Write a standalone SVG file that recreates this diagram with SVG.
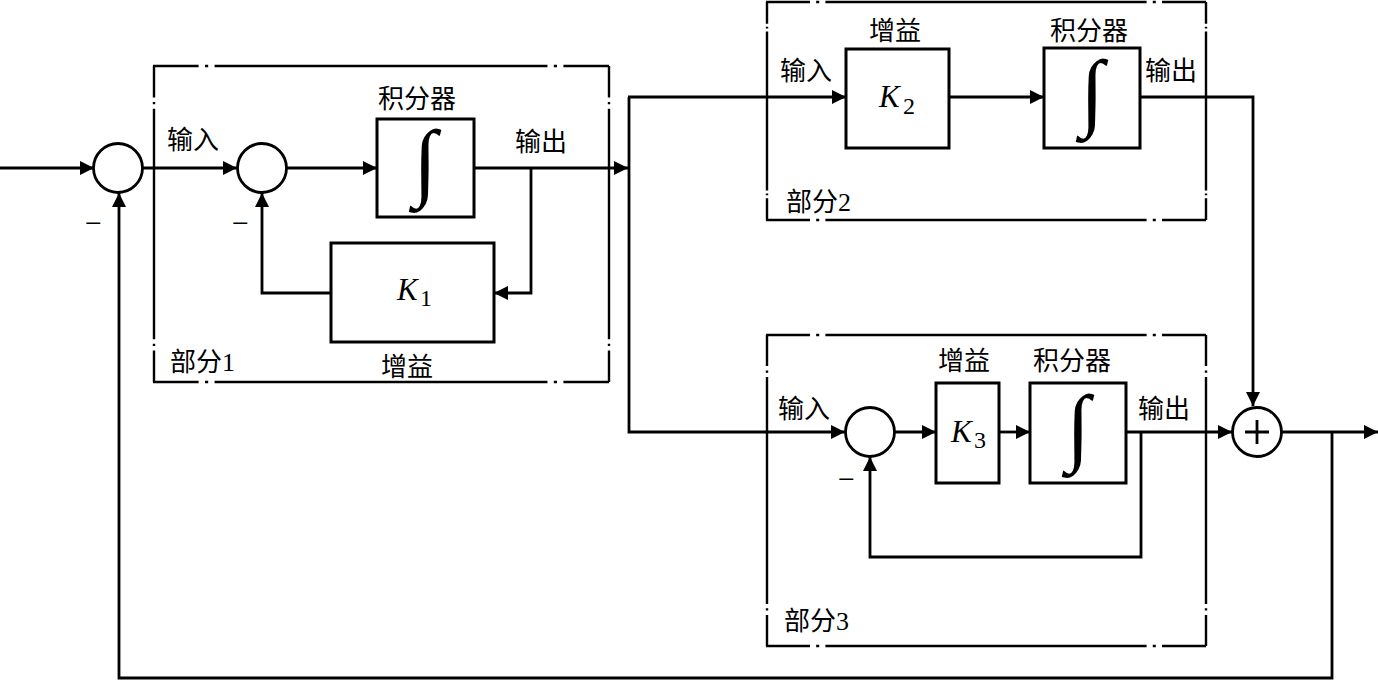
<svg xmlns="http://www.w3.org/2000/svg" width="1378" height="681" viewBox="0 0 1378 681">
<defs>
<marker id="arr" markerWidth="14" markerHeight="14" refX="14" refY="7" orient="auto" markerUnits="userSpaceOnUse">
<path d="M0,0 L14,7 L0,14 z" fill="#000"/>
</marker>
<style>
.ln{fill:none;stroke:#000;stroke-width:2.8}
.box{fill:#fff;stroke:#000;stroke-width:3}
.sum{fill:#fff;stroke:#000;stroke-width:2.8}
.grp{fill:none;stroke:#000;stroke-width:2.4;stroke-dasharray:10 1.4 0.7 1.4 73 1.4 0.7 1.4 10;stroke-linecap:butt}
.cn{font-family:"Liberation Serif","Noto Sans CJK SC",serif;font-size:26px;fill:#000}
.k{font-family:"Liberation Serif",serif;font-style:italic;font-size:31px;fill:#000}
.sub{font-family:"Liberation Serif",serif;font-size:24px;fill:#000}
.int{font-family:"Liberation Serif",serif;font-size:86px;fill:#000;text-anchor:middle}
.mn{font-family:"Liberation Serif",serif;font-size:30px;fill:#000}
</style>
</defs>
<rect width="1378" height="681" fill="#fff"/>

<g id="part1-frame">
<line class="grp" pathLength="100" x1="153" y1="66" x2="609" y2="66"/>
<line class="grp" pathLength="100" x1="609" y1="66" x2="609" y2="382"/>
<line class="grp" pathLength="100" x1="609" y1="382" x2="153" y2="382"/>
<line class="grp" pathLength="100" x1="154" y1="382" x2="154" y2="66"/>
<text class="cn" x="170" y="371">部分1</text>
</g>
<g id="part2-frame">
<line class="grp" pathLength="100" x1="766" y1="2" x2="1206" y2="2"/>
<line class="grp" pathLength="100" x1="1206" y1="2" x2="1206" y2="220"/>
<line class="grp" pathLength="100" x1="1206" y1="220" x2="766" y2="220"/>
<line class="grp" pathLength="100" x1="767" y1="220" x2="767" y2="2"/>
<text class="cn" x="786" y="211">部分2</text>
</g>
<g id="part3-frame">
<line class="grp" pathLength="100" x1="766" y1="335" x2="1206" y2="335"/>
<line class="grp" pathLength="100" x1="1206" y1="335" x2="1206" y2="646"/>
<line class="grp" pathLength="100" x1="1206" y1="646" x2="766" y2="646"/>
<line class="grp" pathLength="100" x1="767" y1="646" x2="767" y2="335"/>
<text class="cn" x="784" y="630">部分3</text>
</g>

<g id="connectors">
<line class="ln" x1="0" y1="168" x2="94" y2="168" marker-end="url(#arr)"/>
<line class="ln" x1="143" y1="168" x2="237" y2="168" marker-end="url(#arr)"/>
<line class="ln" x1="287" y1="168" x2="377" y2="168" marker-end="url(#arr)"/>
<line class="ln" x1="474" y1="168" x2="628" y2="168" marker-end="url(#arr)"/>
<polyline class="ln" points="531,168 531,293 494,293" marker-end="url(#arr)"/>
<polyline class="ln" points="331,293 262,293 262,193" marker-end="url(#arr)"/>
<polyline class="ln" points="629,97 629,432 845,432" marker-end="url(#arr)"/>
<line class="ln" x1="628" y1="97" x2="846" y2="97" marker-end="url(#arr)"/>
<line class="ln" x1="949" y1="97" x2="1044" y2="97" marker-end="url(#arr)"/>
<polyline class="ln" points="1140,97 1253,97 1253,406" marker-end="url(#arr)"/>
<line class="ln" x1="894" y1="432" x2="936" y2="432" marker-end="url(#arr)"/>
<line class="ln" x1="999" y1="432" x2="1030" y2="432" marker-end="url(#arr)"/>
<line class="ln" x1="1126" y1="432" x2="1232" y2="432" marker-end="url(#arr)"/>
<polyline class="ln" points="1141,432 1141,557 870,557 870,457" marker-end="url(#arr)"/>
<line class="ln" x1="1282" y1="432" x2="1378" y2="432" marker-end="url(#arr)"/>
<polyline class="ln" points="1332,432 1332,678 119,678 119,193" marker-end="url(#arr)"/>
</g>

<g id="sum1">
<circle class="sum" cx="118" cy="168" r="24.5"/>
<text class="mn" x="85" y="233">−</text>
</g>
<g id="sum2">
<circle class="sum" cx="262" cy="168" r="24.5"/>
<text class="mn" x="232" y="233">−</text>
</g>
<g id="integrator1">
<rect class="box" x="377" y="119" width="97" height="98"/>
<text class="int" x="425" y="190">∫</text>
<text class="cn" x="378" y="108">积分器</text>
</g>
<g id="gain1">
<rect class="box" x="331" y="243" width="163" height="99"/>
<text class="k" x="397" y="300">K</text>
<text class="sub" x="420" y="306">1</text>
<text class="cn" x="381" y="376">增益</text>
</g>
<g id="labels1">
<text class="cn" x="167" y="149">输入</text>
<text class="cn" x="515" y="151">输出</text>
</g>

<g id="gain2">
<rect class="box" x="846" y="49" width="103" height="99"/>
<text class="k" x="879" y="107">K</text>
<text class="sub" x="903" y="114">2</text>
<text class="cn" x="869" y="40">增益</text>
</g>
<g id="integrator2">
<rect class="box" x="1044" y="48" width="96" height="100"/>
<text class="int" x="1092" y="120">∫</text>
<text class="cn" x="1050" y="40">积分器</text>
</g>
<g id="labels2">
<text class="cn" x="780" y="80">输入</text>
<text class="cn" x="1145" y="80">输出</text>
</g>

<g id="sum3">
<circle class="sum" cx="870" cy="432" r="24.5"/>
<text class="mn" x="838" y="489">−</text>
</g>
<g id="gain3">
<rect class="box" x="936" y="383" width="63" height="100"/>
<text class="k" x="951" y="442">K</text>
<text class="sub" x="974" y="448">3</text>
<text class="cn" x="938" y="370">增益</text>
</g>
<g id="integrator3">
<rect class="box" x="1030" y="383" width="96" height="100"/>
<text class="int" x="1078" y="455">∫</text>
<text class="cn" x="1033" y="370">积分器</text>
</g>
<g id="labels3">
<text class="cn" x="778" y="418">输入</text>
<text class="cn" x="1138" y="418">输出</text>
</g>
<g id="sum-out">
<circle class="sum" cx="1257" cy="432" r="24.5"/>
<path class="ln" d="M1245,432 H1269 M1257,420 V444"/>
</g>
</svg>
